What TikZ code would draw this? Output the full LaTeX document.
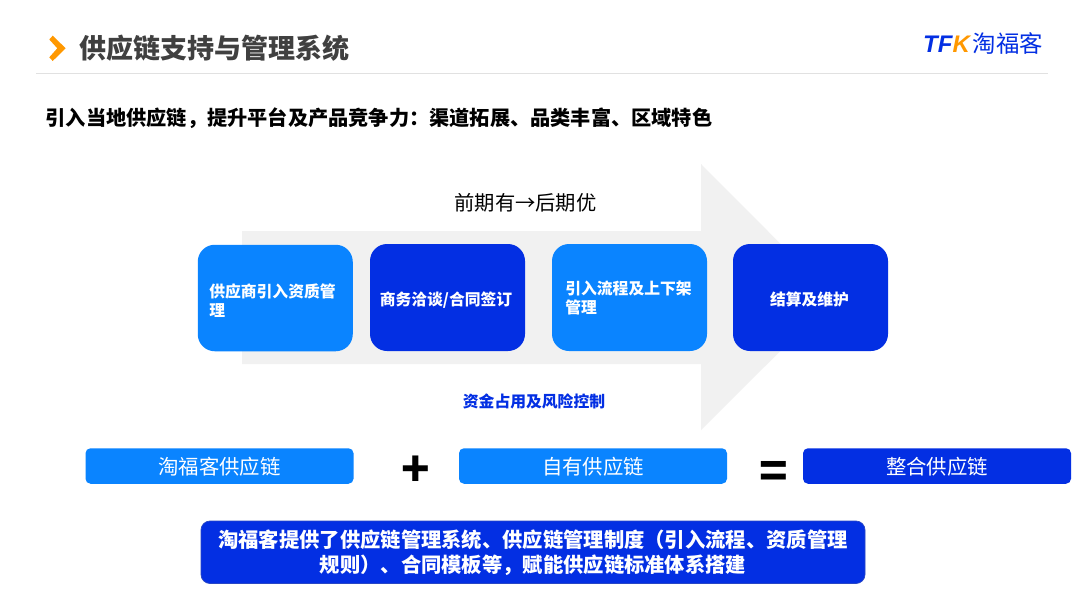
\documentclass[tikz,border=0pt]{standalone}
\usepackage{fontspec}
\setmainfont{Noto Sans CJK SC}
\newfontfamily\logofont{Liberation Sans}
\usepackage{tikz}
\definecolor{lightblue}{HTML}{0A84FF}
\definecolor{darkblue}{HTML}{032FE3}
\definecolor{pale}{HTML}{F1F1F1}
\definecolor{titlegray}{HTML}{404040}
\definecolor{chevron}{HTML}{FF9800}
\newcommand{\topstrut}[1]{\rule{0pt}{#1pt}}
\tikzset{stage/.style = {rounded corners = 17, text = white, align = left, inner sep = 0,
                         minimum width = 155, minimum height = 106.5,
                         font = \fontsize{15.8}{19}\selectfont\bfseries}}
\tikzset{part/.style = {rounded corners = 5, text = white, inner sep = 0,
                        minimum width = 268, minimum height = 35.5,
                        font = \fontsize{20.4}{24}\selectfont}}
\tikzset{sign/.style = {inner sep = 0, font = \fontsize{47}{47}\selectfont\bfseries}}

\begin{document}
\begin{tikzpicture}[x=1pt, y=-1pt]
      \useasboundingbox [fill=white] (0, 0) rectangle (1080, 608);
      \fill [chevron] (49.3, 39.5) -- (52.7, 35.7) -- (65.7, 48.3) -- (52.7, 61) -- (49.3, 57.3) -- (57.3, 48.3) -- cycle;
      \node (title) at (214.5, 48) [inner sep=0, text=titlegray, font=\fontsize{27}{30}\selectfont\bfseries] {供应链支持与管理系统};
      \draw [pale!85!black!60!white, line width=.8] (36, 73) -- (1048, 73);
      \node (tfk) at (946.5, 44) [inner sep=0, text=darkblue, font=\fontsize{24}{28}\logofont\bfseries\itshape] {TF\textcolor{chevron}{K}};
      \node (brand) at (1008, 44) [inner sep=0, text=darkblue, font=\fontsize{23.4}{28}\selectfont] {淘福客};
      \node (lead) at (379, 118) [inner sep=0, font=\fontsize{20.2}{24}\selectfont\bfseries] {引入当地供应链，提升平台及产品竞争力：渠道拓展、品类丰富、区域特色};
      % big arrow behind the stages
      \fill [pale] (242, 231) -- (701, 231) -- (701, 164) -- (834, 297.5) -- (701, 430) -- (701, 364) -- (242, 364) -- cycle;
      \node (early) at (525.5, 202.5) [inner sep=0, font=\fontsize{20.3}{24}\selectfont] {前期有→后期优};
      \node (qualify) at (275.25, 298) [stage, fill=lightblue, text width=132] {\topstrut{19.5}供应商引入资质管\\理};
      \node (contract) at (447.5, 297.5) [stage, fill=darkblue, align=center, minimum height=107] {\topstrut{18}\kern-3pt 商务洽谈/合同签订};
      \node (listing) at (629.5, 297.5) [stage, fill=lightblue, minimum height=107] {\topstrut{15.5}\kern-2pt引入流程及上下架\\\kern-2pt管理};
      \node (settle) at (810.5, 297.5) [stage, fill=darkblue, minimum height=107] {\topstrut{18}\kern-2pt 结算及维护};
      \node (risk) at (534, 401) [inner sep=0, text=darkblue, font=\fontsize{15.8}{19}\selectfont\bfseries] {资金占用及风险控制};
      \node (own) at (219.5, 466) [part, fill=lightblue] {\topstrut{19.5}淘福客供应链};
      \node (plus) at (416, 471) [sign] {+};
      \node (self) at (593, 466) [part, fill=lightblue] {\topstrut{19.5}自有供应链};
      \node (equal) at (774, 474.5) [sign] {=};
      \node (whole) at (937, 466) [part, fill=darkblue] {\topstrut{19.5}整合供应链};
      \node (summary) at (533, 552.25) [rounded corners=9, draw=darkblue!70!gray, line width=.7, fill=darkblue, text=white, align=center, inner sep=0,
        minimum width=664, minimum height=62.5, font=\fontsize{20.3}{25}\selectfont\bfseries]
        {淘福客提供了供应链管理系统、供应链管理制度（引入流程、资质管理\\规则）、合同模板等，赋能供应链标准体系搭建};
    \end{tikzpicture}
\end{document}
